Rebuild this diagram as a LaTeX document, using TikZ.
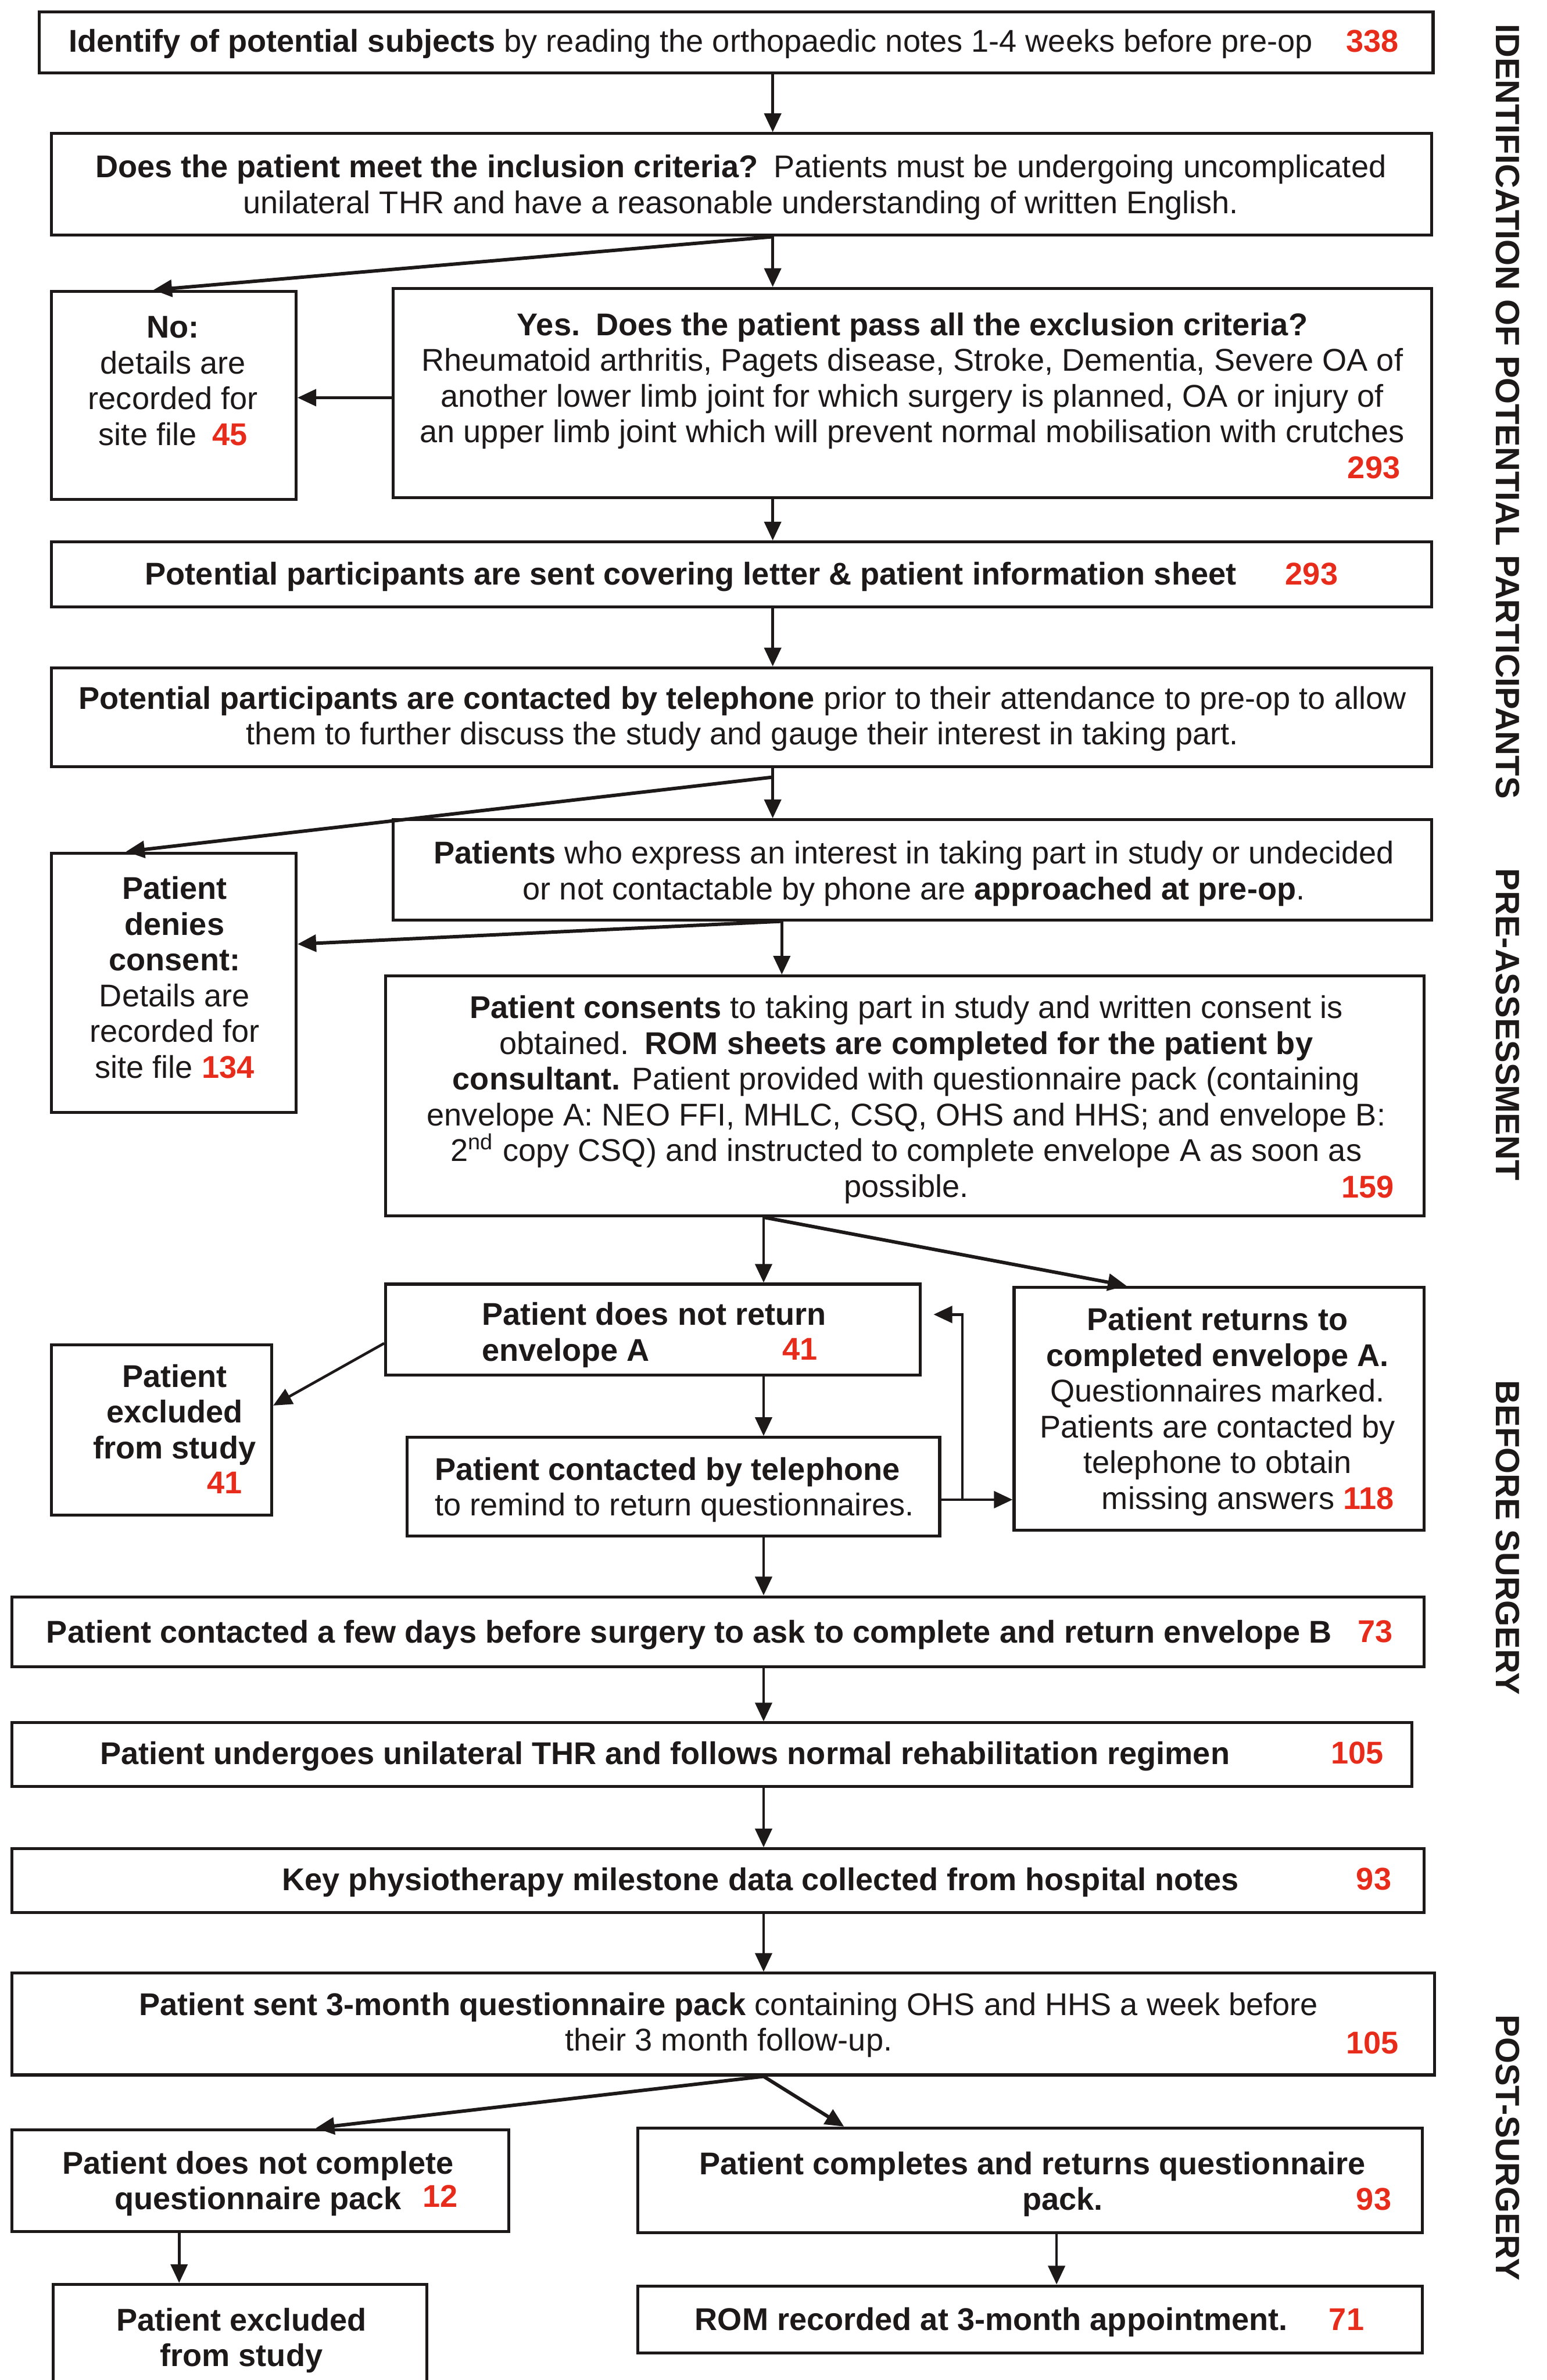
\documentclass[tikz,border=0pt]{standalone}
\usepackage{fontspec}
\setmainfont{Liberation Sans}
\usetikzlibrary{arrows.meta,calc}
\definecolor{numred}{RGB}{232,44,28}
\definecolor{ink}{RGB}{30,25,25}
\newcommand\nr[1]{\textcolor{numred}{\textbf{#1}}}
\newcommand\bx[5]{%
  \pgfmathsetmacro\bxw{(#4-#2)*0.02}%
  \pgfmathsetmacro\bxh{(#5-#3)*0.02}%
  \node[box, minimum width=\bxw cm, minimum height=\bxh cm] (#1) at ({(#2+#4)/2},{(#3+#5)/2}) {};}
\begin{document}
\begin{tikzpicture}[x=0.02cm,y=-0.02cm,
  box/.style={draw=ink, line width=1.1pt, inner sep=0pt},
  txt/.style={font=\fontsize{11.8}{13.4}\selectfont, text=ink, align=center, inner sep=0pt, yshift=-0.04cm},
  num/.style={font=\fontsize{11.8}{13.4}\selectfont\bfseries, text=numred, inner sep=0pt},
  arr/.style={draw=ink, line width=1pt, -{Triangle[length=7pt,width=6.3pt]}},
  arrd/.style={draw=ink, line width=1.3pt, -{Triangle[length=7pt,width=6.3pt]}},
  plain/.style={draw=ink, line width=1pt},
  side/.style={font=\fontsize{12.6}{14}\selectfont\bfseries, text=ink, rotate=-90, inner sep=0pt}]
\fill[white] (0,0) rectangle (1019,1568);
\useasboundingbox (0,0) rectangle (1019,1568);

% boxes
\bx{b1}{26}{8}{944}{48}
\bx{b2}{34}{88}{943}{155}
\bx{bno}{34}{192}{195}{329}
\bx{byes}{259}{190}{943}{328}
\bx{b5}{34}{357}{943}{400}
\bx{b6}{34}{440}{943}{505}
\bx{bden}{34}{562}{195}{733}
\bx{bint}{259}{540}{943}{606}
\bx{bcon}{254}{643}{938}{801}
\bx{bnot}{254}{846}{606}{906}
\bx{bexc}{34}{886}{179}{998}
\bx{btel}{268}{947}{619}{1012}
\bx{bret}{668}{848}{938}{1008}
\bx{b14}{8}{1052}{938}{1098}
\bx{b15}{8}{1135}{930}{1177}
\bx{b16}{8}{1218}{938}{1260}
\bx{b17}{8}{1300}{945}{1367}
\bx{bnc}{8}{1403}{335}{1470}
\bx{bcomp}{420}{1402}{937}{1471}
\bx{bexcb}{35}{1505}{281}{1620}
\bx{brom}{420}{1506}{937}{1550}

% texts
\node[txt] (t1) at (455,27) {\textbf{Identify of potential subjects} by reading the orthopaedic notes 1-4 weeks before pre-op};
\node[num] (n1) at (904,27) {338};
\node[txt] (t2) at (488,121.5) {\textbf{Does the patient meet the inclusion criteria?}\enspace Patients must be undergoing uncomplicated\\unilateral THR and have a reasonable understanding of written English.};
\node[txt] (tno) at (114,249) {\textbf{No:}\\details are\\recorded for\\site file\enspace\nr{45}};
\node[txt] (tyes) at (601,249) {\textbf{Yes.\enspace Does the patient pass all the exclusion criteria?}\\Rheumatoid arthritis, Pagets disease, Stroke, Dementia, Severe OA of\\another lower limb joint for which surgery is planned, OA or injury of\\an upper limb joint which will prevent normal mobilisation with crutches};
\node[num] (n2) at (905,308) {293};
\node[txt] (t5) at (455,378) {\textbf{Potential participants are sent covering letter \& patient information sheet}};
\node[num] (n3) at (864,378) {293};
\node[txt] (t6) at (489,471.5) {\textbf{Potential participants are contacted by telephone} prior to their attendance to pre-op to allow\\them to further discuss the study and gauge their interest in taking part.};
\node[txt] (tden) at (115,642) {\textbf{Patient}\\\textbf{denies}\\\textbf{consent:}\\Details are\\recorded for\\site file \nr{134}};
\node[txt] (tint) at (602,573.5) {\textbf{Patients} who express an interest in taking part in study or undecided\\or not contactable by phone are \textbf{approached at pre-op}.};
\node[txt] (tcon) at (597,722.5) {\textbf{Patient consents} to taking part in study and written consent is\\obtained.\enspace\textbf{ROM sheets are completed for the patient by}\\\textbf{consultant.} Patient provided with questionnaire pack (containing\\envelope A: NEO FFI, MHLC, CSQ, OHS and HHS; and envelope B:\\2\textsuperscript{nd} copy CSQ) and instructed to complete envelope A as soon as\\possible.};
\node[num] (n4) at (901,782) {159};
\node[txt, align=left, anchor=west] (tnot) at (317,877.5) {\textbf{Patient does not return}\\\textbf{envelope A}};
\node[num] (n5) at (527,889) {41};
\node[txt] (texc) at (115,930) {\textbf{Patient}\\\textbf{excluded}\\\textbf{from study}};
\node[num, anchor=east] (n6) at (160,977) {41};
\node[txt, align=left, anchor=west] (ttel) at (286,979.5) {\textbf{Patient contacted by telephone}\\to remind to return questionnaires.};
\node[txt] (tret) at (802,928) {\textbf{Patient returns to}\\\textbf{completed envelope A.}\\Questionnaires marked.\\Patients are contacted by\\telephone to obtain\\\hspace*{0.8cm}missing answers \nr{118}};
\node[txt] (t14) at (454,1075) {\textbf{Patient contacted a few days before surgery to ask to complete and return envelope B}};
\node[num] (n7) at (906,1075) {73};
\node[txt] (t15) at (438,1155) {\textbf{Patient undergoes unilateral THR and follows normal rehabilitation regimen}};
\node[num] (n8) at (894,1155) {105};
\node[txt] (t16) at (501,1238) {\textbf{Key physiotherapy milestone data collected from hospital notes}};
\node[num] (n9) at (905,1238) {93};
\node[txt] (t17) at (480,1332) {\textbf{Patient sent 3-month questionnaire pack} containing OHS and HHS a week before\\their 3 month follow-up.};
\node[num] (n10) at (904,1346) {105};
\node[txt] (tnc) at (170,1436.5) {\textbf{Patient does not complete}\\\textbf{questionnaire pack}};
\node[num] (n11) at (290,1447) {12};
\node[txt] (tcomp) at (680,1437) {\textbf{Patient completes and returns questionnaire}\\\hspace*{0.8cm}\textbf{pack.}};
\node[num] (n12) at (905,1449) {93};
\node[txt] (texcb) at (159,1540) {\textbf{Patient excluded}\\\textbf{from study}};
\node[txt] (trom) at (653,1528) {\textbf{ROM recorded at 3-month appointment.}};
\node[num] (n13) at (887,1528) {71};

% side labels
\node[side] (s1) at (993,271) {IDENTIFICATION OF POTENTIAL PARTICIPANTS};
\node[side] (s2) at (993,675) {PRE-ASSESSMENT};
\node[side] (s3) at (993,1013) {BEFORE SURGERY};
\node[side] (s4) at (993,1415) {POST-SURGERY};

% helper coordinates
\coordinate (x509) at (509,0);
\coordinate (x515) at (515,0);
\coordinate (x503) at (503,0);
\coordinate (x101) at (101,0);
\coordinate (x83) at (83,0);
\coordinate (x742) at (742,0);
\coordinate (x208) at (208,0);
\coordinate (x556) at (556,0);
\coordinate (x118) at (118,0);
\coordinate (x696) at (696,0);
\coordinate (y262) at (0,262);
\coordinate (y622) at (0,622);
\coordinate (y885) at (0,885);
\coordinate (y926) at (0,926);
\coordinate (y988) at (0,988);
\coordinate (y866) at (0,866);
\coordinate (j6) at (509,512);
\coordinate (lp) at (634,988);

% connectors
\draw[arr] (b1.south -| x509) -- (b2.north -| x509);
\draw[arrd] (b2.south -| x509) -- (bno.north -| x101);
\draw[arr] (b2.south -| x509) -- (byes.north -| x509);
\draw[arr] (byes.west |- y262) -- (bno.east |- y262);
\draw[arr] (byes.south -| x509) -- (b5.north -| x509);
\draw[arr] (b5.south -| x509) -- (b6.north -| x509);
\draw[plain] (b6.south -| x509) -- (j6);
\draw[arrd] (j6) -- (bden.north -| x83);
\draw[arr] (j6) -- (bint.north -| x509);
\draw[arrd] (bint.south -| x515) -- (bden.east |- y622);
\draw[arr] (bint.south -| x515) -- (bcon.north -| x515);
\draw[arr] (bcon.south -| x503) -- (bnot.north -| x503);
\draw[arrd] (bcon.south -| x503) -- (bret.north -| x742);
\draw[arr] (bnot.west |- y885) -- (bexc.east |- y926);
\draw[arr] (bnot.south -| x503) -- (btel.north -| x503);
\draw[arr] (btel.east |- y988) -- (bret.west |- y988);
\draw[arr, shorten >=0.16cm] (lp) |- (bnot.east |- y866);
\draw[arr] (btel.south -| x503) -- (b14.north -| x503);
\draw[arr] (b14.south -| x503) -- (b15.north -| x503);
\draw[arr] (b15.south -| x503) -- (b16.north -| x503);
\draw[arr] (b16.south -| x503) -- (b17.north -| x503);
\draw[arrd] (b17.south -| x503) -- (bnc.north -| x208);
\draw[arrd] (b17.south -| x503) -- (bcomp.north -| x556);
\draw[arr] (bnc.south -| x118) -- (bexcb.north -| x118);
\draw[arr] (bcomp.south -| x696) -- (brom.north -| x696);
\end{tikzpicture}
\end{document}
